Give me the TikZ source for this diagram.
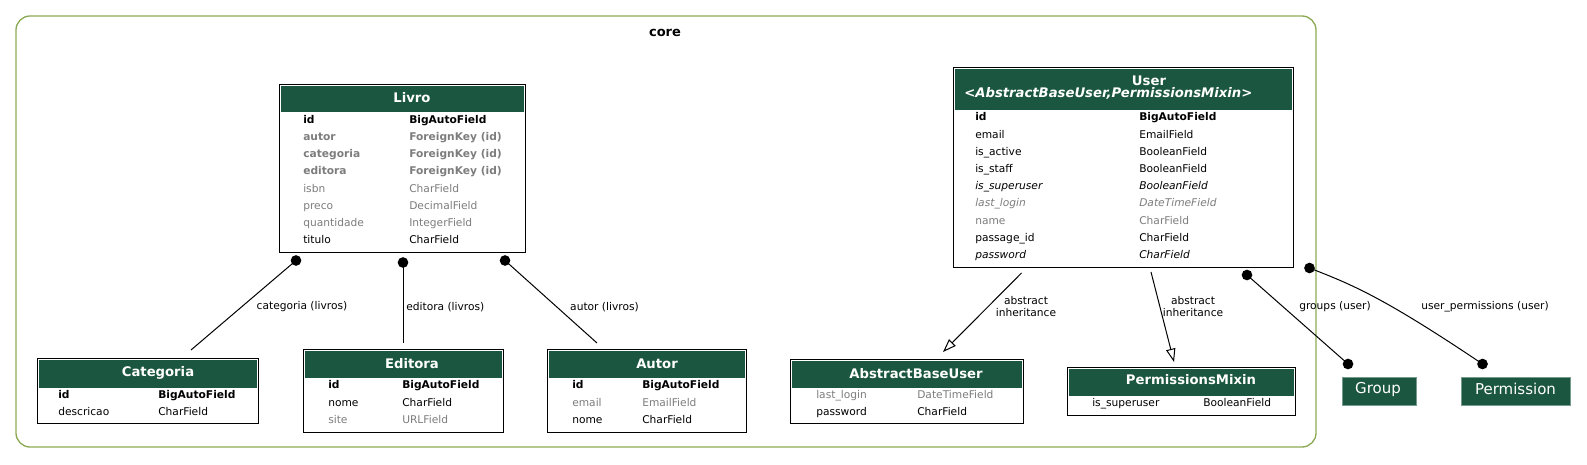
\documentclass[tikz,border=0pt]{standalone}
\usepackage{fontspec}
\setmainfont{DejaVu Sans}
\usetikzlibrary{arrows.meta,fit}
\definecolor{hdrgreen}{RGB}{27,86,64}
\definecolor{clusgreen}{RGB}{140,170,85}
\definecolor{fldgray}{RGB}{125,125,125}

\begin{document}
\begin{tikzpicture}[x=0.75pt,y=0.75pt,yscale=-1,xscale=1,
  tbl/.style={draw=black,line width=0.75pt,fill=white,inner sep=0pt},
  hdr/.style={fill=hdrgreen},
  ttl/.style={text=white,inner sep=0pt,font=\bfseries\fontsize{9.9}{11}\selectfont},
  fld/.style={anchor=west,inner sep=0pt,text height=7.5pt,text depth=1pt,font=\fontsize{8}{9.6}\selectfont},
  rowpk/.style={font=\bfseries\fontsize{8}{9.6}\selectfont},
  rowfk/.style={text=fldgray,font=\bfseries\fontsize{8}{9.6}\selectfont},
  rowdim/.style={text=fldgray},
  rowpl/.style={},
  rowit/.style={font=\itshape\fontsize{8}{9.6}\selectfont},
  rowdimit/.style={text=fldgray,font=\itshape\fontsize{8}{9.6}\selectfont},
  grp/.style={fill=hdrgreen,draw=hdrgreen!60!white,line width=0.5pt,inner sep=0pt},
  grptxt/.style={text=white,inner sep=0pt,font=\fontsize{11.25}{13}\selectfont},
  link/.style={line width=0.75pt},
  lbl/.style={inner sep=0pt,align=center,font=\fontsize{8}{9}\selectfont},
  inh/.style={line width=0.75pt,-{Triangle[open,length=10pt,width=7pt]}}
]
\useasboundingbox (0,0) rectangle (1587,464);

%Shape: cluster core
\draw [clusgreen,line width=1pt,rounded corners=10.5pt] (16,16) rectangle (1316,447);
% Text Node
\node [font=\bfseries\fontsize{9.75}{11}\selectfont] (coreT) at (665,32.5) {core};

%%% TABLES %%%
%Shape: Livro
\node [tbl,fit={(279,84) (525,252)}] (livro) {};
\fill [hdr] (280.5,85.5) rectangle (523.5,112);
\node [ttl] (livroH) at (412,98) {Livro};
\foreach \n/\t/\s [count=\i] in {id/BigAutoField/rowpk,autor/ForeignKey (id)/rowfk,categoria/ForeignKey (id)/rowfk,editora/ForeignKey (id)/rowfk,isbn/CharField/rowdim,preco/DecimalField/rowdim,quantidade/IntegerField/rowdim,titulo/CharField/rowpl}{
  \node [fld,\s] (livroN\i) at (303,{119+17.2*(\i-1)}) {\n};
  \node [fld,\s] (livroT\i) at (409,{119+17.2*(\i-1)}) {\t};
}

%Shape: User
\node [tbl,fit={(953,67) (1293,267)}] (user) {};
\fill [hdr] (954.5,68.5) rectangle (1291.5,110);
\node [ttl] (userH) at (1149,81) {User};
\node [ttl,anchor=west,font=\bfseries\itshape\fontsize{9.9}{11}\selectfont] (userH2) at (964,93) {<AbstractBaseUser,PermissionsMixin>};
\foreach \n/\t/\s [count=\i] in {id/BigAutoField/rowpk,email/EmailField/rowpl,is\_active/BooleanField/rowpl,is\_staff/BooleanField/rowpl,is\_superuser/BooleanField/rowit,last\_login/DateTimeField/rowdimit,name/CharField/rowdim,passage\_id/CharField/rowpl,password/CharField/rowit}{
  \node [fld,\s] (userN\i) at (975,{116.5+17.2*(\i-1)}) {\n};
  \node [fld,\s] (userT\i) at (1139,{116.5+17.2*(\i-1)}) {\t};
}

%Shape: Categoria
\node [tbl,fit={(37,358) (258,423)}] (categoria) {};
\fill [hdr] (38.5,359.5) rectangle (256.5,388);
\node [ttl] (categoriaH) at (158,373) {Categoria};
\foreach \n/\t/\s [count=\i] in {id/BigAutoField/rowpk,descricao/CharField/rowpl}{
  \node [fld,\s] (categoriaN\i) at (58,{394+17.2*(\i-1)}) {\n};
  \node [fld,\s] (categoriaT\i) at (158,{394+17.2*(\i-1)}) {\t};
}

%Shape: Editora
\node [tbl,fit={(303,349.5) (503,432)}] (editora) {};
\fill [hdr] (304.5,351) rectangle (501.5,378);
\node [ttl] (editoraH) at (412,364) {Editora};
\foreach \n/\t/\s [count=\i] in {id/BigAutoField/rowpk,nome/CharField/rowpl,site/URLField/rowdim}{
  \node [fld,\s] (editoraN\i) at (328,{384.5+17.2*(\i-1)}) {\n};
  \node [fld,\s] (editoraT\i) at (402,{384.5+17.2*(\i-1)}) {\t};
}

%Shape: Autor
\node [tbl,fit={(547,349.5) (746,432)}] (autor) {};
\fill [hdr] (548.5,351) rectangle (744.5,378);
\node [ttl] (autorH) at (657,364) {Autor};
\foreach \n/\t/\s [count=\i] in {id/BigAutoField/rowpk,email/EmailField/rowdim,nome/CharField/rowpl}{
  \node [fld,\s] (autorN\i) at (572,{384.5+17.2*(\i-1)}) {\n};
  \node [fld,\s] (autorT\i) at (642,{384.5+17.2*(\i-1)}) {\t};
}

%Shape: AbstractBaseUser
\node [tbl,fit={(790,359) (1023,423)}] (abstractbaseuser) {};
\fill [hdr] (791.5,360.5) rectangle (1021.5,388);
\node [ttl] (abstractbaseuserH) at (916,374) {AbstractBaseUser};
\foreach \n/\t/\s [count=\i] in {last\_login/DateTimeField/rowdim,password/CharField/rowpl}{
  \node [fld,\s] (abstractbaseuserN\i) at (816,{394+17.2*(\i-1)}) {\n};
  \node [fld,\s] (abstractbaseuserT\i) at (917,{394+17.2*(\i-1)}) {\t};
}

%Shape: PermissionsMixin
\node [tbl,fit={(1067,367) (1295,415)}] (permissionsmixin) {};
\fill [hdr] (1068.5,368.5) rectangle (1293.5,395.5);
\node [ttl] (permissionsmixinH) at (1191,379.5) {PermissionsMixin};
\node [fld] (permissionsmixinN1) at (1092,402.5) {is\_superuser};
\node [fld] (permissionsmixinT1) at (1203,402.5) {BooleanField};

%Shape: Group, Permission
\node [grp,fit={(1342,377.5) (1416,405.5)}] (group) {};
\node [grptxt] (groupT) at (1378,389) {Group};
\node [grp,fit={(1461,377.5) (1570,405.5)}] (permission) {};
\node [grptxt] (permissionT) at (1515.5,389) {Permission};

%%% EDGES %%%
\coordinate (livCat) at (296,260.5);
\coordinate (catEnd) at (191,350);
\coordinate (livEdi) at (403,262.5);
\coordinate (ediEnd) at (403,343);
\coordinate (livAut) at (505,260.5);
\coordinate (autEnd) at (597,343);
\coordinate (usrAbs) at (1021.5,273);
\coordinate (absTip) at (943,352);
\coordinate (usrPm) at (1151,272);
\coordinate (pmTip) at (1174,362);
\coordinate (usrGrp) at (1247,275);
\coordinate (grpEnd) at (1348,364);
\coordinate (usrPer) at (1309.5,268);
\coordinate (perEnd) at (1482.5,364);

%Straight Lines: categoria
\draw [link] (livCat) -- (catEnd);
\fill (livCat) circle [radius=4pt];
\node [lbl] (catL) at (302,307) {categoria (livros)};
%Straight Lines: editora
\draw [link] (livEdi) -- (ediEnd);
\fill (livEdi) circle [radius=4pt];
\node [lbl,anchor=west] (ediL) at (406,307) {editora (livros)};
%Straight Lines: autor
\draw [link] (livAut) -- (autEnd);
\fill (livAut) circle [radius=4pt];
\node [lbl] (autL) at (604.5,307) {autor (livros)};

%Straight Lines: inheritance
\draw [inh] (usrAbs) -- (absTip);
\node [lbl] (absL) at (1026,307) {abstract\\inheritance};
\draw [inh] (usrPm) -- (pmTip);
\node [lbl] (pmL) at (1193,307) {abstract\\inheritance};

%Lines: groups, user_permissions
\draw [link] (usrGrp) -- (grpEnd);
\fill (usrGrp) circle [radius=4pt];
\fill (grpEnd) circle [radius=4pt];
\node [lbl] (grpL) at (1335,307) {groups (user)};
\draw [link] (usrPer) .. controls (1350,284) and (1380,295) .. (perEnd);
\fill (usrPer) circle [radius=4pt];
\fill (perEnd) circle [radius=4pt];
\node [lbl] (perL) at (1485,307) {user\_permissions (user)};

\end{tikzpicture}
\end{document}
